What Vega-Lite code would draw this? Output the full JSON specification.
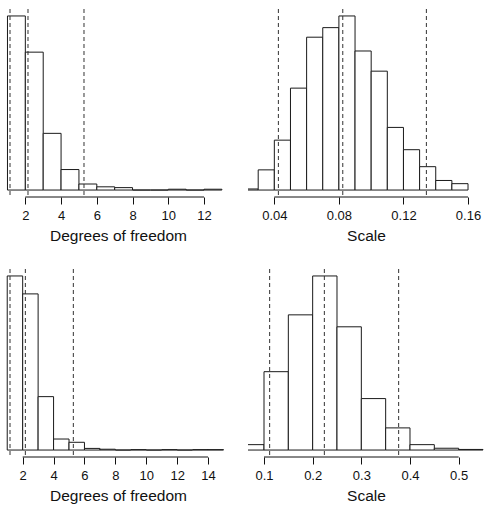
{
  "$schema": "https://vega.github.io/schema/vega-lite/v6.json",
  "background": "white",
  "padding": {"left": 0, "top": 8, "right": 0, "bottom": 0},
  "config": {
    "view": {"stroke": null},
    "font": "Liberation Sans",
    "axis": {
      "grid": false,
      "domain": false,
      "ticks": true,
      "tickColor": "#111",
      "tickSize": 7,
      "tickCount": 20,
      "labelFont": "Liberation Sans",
      "labelFontSize": 13,
      "labelColor": "#111",
      "labelPadding": 5,
      "labelOverlap": false,
      "labelFlush": false,
      "titleFont": "Liberation Sans",
      "titleFontSize": 15.5,
      "titleFontWeight": "normal",
      "titleColor": "#111",
      "titlePadding": 6
    }
  },
  "datasets": {
    "df1_bins": [
      {"bin_start": 1, "bin_end": 2, "count": 433},
      {"bin_start": 2, "bin_end": 3, "count": 343},
      {"bin_start": 3, "bin_end": 4, "count": 141},
      {"bin_start": 4, "bin_end": 5, "count": 51},
      {"bin_start": 5, "bin_end": 6, "count": 15},
      {"bin_start": 6, "bin_end": 7, "count": 8},
      {"bin_start": 7, "bin_end": 8, "count": 6},
      {"bin_start": 8, "bin_end": 9, "count": 0},
      {"bin_start": 9, "bin_end": 10, "count": 0},
      {"bin_start": 10, "bin_end": 11, "count": 2},
      {"bin_start": 11, "bin_end": 12, "count": 0},
      {"bin_start": 12, "bin_end": 13, "count": 2}
    ],
    "df1_lines": [{"value": 1.142}, {"value": 2.149}, {"value": 5.283}],
    "df1_axis": [{"from": 2, "to": 12}],
    "sc1_bins": [
      {"bin_start": 0.02, "bin_end": 0.03, "count": 1},
      {"bin_start": 0.03, "bin_end": 0.04, "count": 19},
      {"bin_start": 0.04, "bin_end": 0.05, "count": 47},
      {"bin_start": 0.05, "bin_end": 0.06, "count": 96},
      {"bin_start": 0.06, "bin_end": 0.07, "count": 144},
      {"bin_start": 0.07, "bin_end": 0.08, "count": 153},
      {"bin_start": 0.08, "bin_end": 0.09, "count": 164},
      {"bin_start": 0.09, "bin_end": 0.10, "count": 131},
      {"bin_start": 0.10, "bin_end": 0.11, "count": 112},
      {"bin_start": 0.11, "bin_end": 0.12, "count": 59},
      {"bin_start": 0.12, "bin_end": 0.13, "count": 38},
      {"bin_start": 0.13, "bin_end": 0.14, "count": 22},
      {"bin_start": 0.14, "bin_end": 0.15, "count": 9},
      {"bin_start": 0.15, "bin_end": 0.16, "count": 6}
    ],
    "sc1_lines": [{"value": 0.0425}, {"value": 0.0824}, {"value": 0.1342}],
    "sc1_axis": [{"from": 0.04, "to": 0.16}],
    "df2_bins": [
      {"bin_start": 1, "bin_end": 2, "count": 427},
      {"bin_start": 2, "bin_end": 3, "count": 383},
      {"bin_start": 3, "bin_end": 4, "count": 131},
      {"bin_start": 4, "bin_end": 5, "count": 27},
      {"bin_start": 5, "bin_end": 6, "count": 19},
      {"bin_start": 6, "bin_end": 7, "count": 4},
      {"bin_start": 7, "bin_end": 8, "count": 2},
      {"bin_start": 8, "bin_end": 9, "count": 0},
      {"bin_start": 9, "bin_end": 10, "count": 1},
      {"bin_start": 10, "bin_end": 11, "count": 0},
      {"bin_start": 11, "bin_end": 12, "count": 1},
      {"bin_start": 12, "bin_end": 13, "count": 0},
      {"bin_start": 13, "bin_end": 14, "count": 1},
      {"bin_start": 14, "bin_end": 15, "count": 1}
    ],
    "df2_lines": [{"value": 1.18}, {"value": 2.173}, {"value": 5.28}],
    "df2_axis": [{"from": 2, "to": 14}],
    "sc2_bins": [
      {"bin_start": 0.05, "bin_end": 0.10, "count": 9},
      {"bin_start": 0.10, "bin_end": 0.15, "count": 131},
      {"bin_start": 0.15, "bin_end": 0.20, "count": 226},
      {"bin_start": 0.20, "bin_end": 0.25, "count": 291},
      {"bin_start": 0.25, "bin_end": 0.30, "count": 206},
      {"bin_start": 0.30, "bin_end": 0.35, "count": 86},
      {"bin_start": 0.35, "bin_end": 0.40, "count": 37},
      {"bin_start": 0.40, "bin_end": 0.45, "count": 9},
      {"bin_start": 0.45, "bin_end": 0.50, "count": 3},
      {"bin_start": 0.50, "bin_end": 0.55, "count": 1}
    ],
    "sc2_lines": [{"value": 0.1116}, {"value": 0.224}, {"value": 0.3767}],
    "sc2_axis": [{"from": 0.1, "to": 0.5}]
  },
  "bounds": "flush",
  "columns": 2,
  "spacing": {"row": 72, "column": 12},
  "concat": [
    {
      "width": 236,
      "height": 188,
      "layer": [
        {
          "data": {"name": "df1_bins"},
          "mark": {"type": "rect", "fill": "white", "stroke": "#1a1a1a", "strokeWidth": 1, "clip": true},
          "encoding": {
            "x": {"field": "bin_start", "type": "quantitative", "title": "Degrees of freedom",
                  "scale": {"domain": [0.582, 13.79], "zero": false, "nice": false},
                  "axis": {"values": [2, 4, 6, 8, 10, 12], "format": "d", "labelOverlap": false, "tickCount": 20}},
            "x2": {"field": "bin_end"},
            "y": {"field": "count", "type": "quantitative", "axis": null,
                  "scale": {"domain": [-17.32, 450.32], "zero": false, "nice": false}},
            "y2": {"datum": 0}
          }
        },
        {
          "data": {"name": "df1_lines"},
          "mark": {"type": "rule", "color": "#333", "strokeWidth": 1, "strokeDash": [4, 3]},
          "encoding": {"x": {"field": "value", "type": "quantitative", "title": "Degrees of freedom"}}
        },
        {
          "data": {"name": "df1_axis"},
          "mark": {"type": "rule", "color": "#111", "strokeWidth": 1},
          "encoding": {
            "x": {"field": "from", "type": "quantitative", "title": "Degrees of freedom"},
            "x2": {"field": "to"},
            "y": {"datum": -17.32}
          }
        }
      ]
    },
    {
      "width": 236,
      "height": 188,
      "layer": [
        {
          "data": {"name": "sc1_bins"},
          "mark": {"type": "rect", "fill": "white", "stroke": "#1a1a1a", "strokeWidth": 1, "clip": true},
          "encoding": {
            "x": {"field": "bin_start", "type": "quantitative", "title": "Scale",
                  "scale": {"domain": [0.02368, 0.1699], "zero": false, "nice": false},
                  "axis": {"values": [0.04, 0.08, 0.12, 0.16], "format": ".2f", "labelOverlap": false, "tickCount": 20}},
            "x2": {"field": "bin_end"},
            "y": {"field": "count", "type": "quantitative", "axis": null,
                  "scale": {"domain": [-6.56, 170.56], "zero": false, "nice": false}},
            "y2": {"datum": 0}
          }
        },
        {
          "data": {"name": "sc1_lines"},
          "mark": {"type": "rule", "color": "#333", "strokeWidth": 1, "strokeDash": [4, 3]},
          "encoding": {"x": {"field": "value", "type": "quantitative", "title": "Scale"}}
        },
        {
          "data": {"name": "sc1_axis"},
          "mark": {"type": "rule", "color": "#111", "strokeWidth": 1},
          "encoding": {
            "x": {"field": "from", "type": "quantitative", "title": "Scale"},
            "x2": {"field": "to"},
            "y": {"datum": -6.56}
          }
        }
      ]
    },
    {
      "width": 236,
      "height": 188,
      "layer": [
        {
          "data": {"name": "df2_bins"},
          "mark": {"type": "rect", "fill": "white", "stroke": "#1a1a1a", "strokeWidth": 1, "clip": true},
          "encoding": {
            "x": {"field": "bin_start", "type": "quantitative", "title": "Degrees of freedom",
                  "scale": {"domain": [0.532, 15.81], "zero": false, "nice": false},
                  "axis": {"values": [2, 4, 6, 8, 10, 12, 14], "format": "d", "labelOverlap": false, "tickCount": 20}},
            "x2": {"field": "bin_end"},
            "y": {"field": "count", "type": "quantitative", "axis": null,
                  "scale": {"domain": [-17.08, 444.08], "zero": false, "nice": false}},
            "y2": {"datum": 0}
          }
        },
        {
          "data": {"name": "df2_lines"},
          "mark": {"type": "rule", "color": "#333", "strokeWidth": 1, "strokeDash": [4, 3]},
          "encoding": {"x": {"field": "value", "type": "quantitative", "title": "Degrees of freedom"}}
        },
        {
          "data": {"name": "df2_axis"},
          "mark": {"type": "rule", "color": "#111", "strokeWidth": 1},
          "encoding": {
            "x": {"field": "from", "type": "quantitative", "title": "Degrees of freedom"},
            "x2": {"field": "to"},
            "y": {"datum": -17.08}
          }
        }
      ]
    },
    {
      "width": 236,
      "height": 188,
      "layer": [
        {
          "data": {"name": "sc2_bins"},
          "mark": {"type": "rect", "fill": "white", "stroke": "#1a1a1a", "strokeWidth": 1, "clip": true},
          "encoding": {
            "x": {"field": "bin_start", "type": "quantitative", "title": "Scale",
                  "scale": {"domain": [0.0671, 0.5521], "zero": false, "nice": false},
                  "axis": {"values": [0.1, 0.2, 0.3, 0.4, 0.5], "format": ".1f", "labelOverlap": false, "tickCount": 20}},
            "x2": {"field": "bin_end"},
            "y": {"field": "count", "type": "quantitative", "axis": null,
                  "scale": {"domain": [-11.64, 302.64], "zero": false, "nice": false}},
            "y2": {"datum": 0}
          }
        },
        {
          "data": {"name": "sc2_lines"},
          "mark": {"type": "rule", "color": "#333", "strokeWidth": 1, "strokeDash": [4, 3]},
          "encoding": {"x": {"field": "value", "type": "quantitative", "title": "Scale"}}
        },
        {
          "data": {"name": "sc2_axis"},
          "mark": {"type": "rule", "color": "#111", "strokeWidth": 1},
          "encoding": {
            "x": {"field": "from", "type": "quantitative", "title": "Scale"},
            "x2": {"field": "to"},
            "y": {"datum": -11.64}
          }
        }
      ]
    }
  ]
}
